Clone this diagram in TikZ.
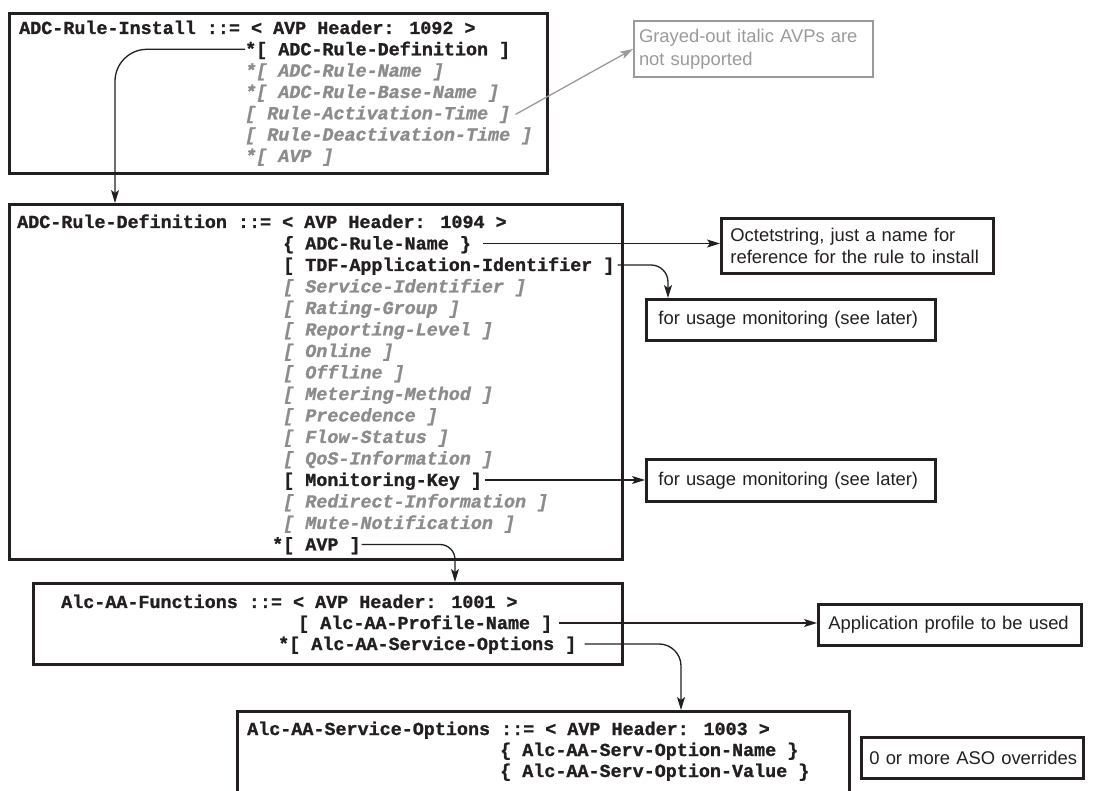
\documentclass[tikz,border=0pt]{standalone}
\usepackage{fontspec}
\setmainfont{Liberation Sans}
\newfontfamily\monof{Liberation Mono}[BoldFeatures={FakeBold=1.2},BoldItalicFeatures={FakeBold=1.2}]
\usetikzlibrary{arrows.meta}
\definecolor{ink}{HTML}{231F20}
\definecolor{avpgray}{HTML}{8C8C8C}
\definecolor{notegray}{HTML}{9A9A9A}
\tikzset{
  frame/.style={draw=ink, line width=3pt, anchor=north west, inner sep=0pt},
  mtxt/.style={inner sep=0pt, anchor=west, text height=14pt, text depth=2pt, text=ink,
    font=\monof\bfseries\fontsize{18.4pt}{21pt}\selectfont},
  gtxt/.style={mtxt, text=avpgray, font=\monof\bfseries\itshape\fontsize{18.4pt}{21pt}\selectfont},
  note/.style={draw=ink, line width=2.8pt, anchor=north west, align=left, text=ink,
    font=\fontsize{18.4pt}{22.5pt}\selectfont, inner ysep=0pt},
  conn/.style={draw=ink, line width=1.3pt, -{Stealth[length=13pt,width=8pt,inset=3pt]}},
  gconn/.style={draw=notegray, line width=1.3pt, -{Stealth[length=13pt,width=8pt,inset=3pt]}}
}
\begin{document}
\begin{tikzpicture}[x=1pt,y=-1pt]
\useasboundingbox (0,0) rectangle (1096,791);

% ---------- box 1 ----------
\node[frame, minimum width=538pt, minimum height=160pt] (b1) at (8,12) {};
\node[mtxt] (h1) at (19,28) {ADC-Rule-Install ::= < AVP Header: 1092 >};
\node[mtxt] (r1a) at (245,49.3) {*[ ADC-Rule-Definition ]};
\node[gtxt] (r1b) at (245,70.6) {*[ ADC-Rule-Name ]};
\node[gtxt] (r1c) at (245,92) {*[ ADC-Rule-Base-Name ]};
\node[gtxt] (r1d) at (245,113.3) {[ Rule-Activation-Time ]};
\node[gtxt] (r1e) at (245,134.6) {[ Rule-Deactivation-Time ]};
\node[gtxt] (r1f) at (245,156) {*[ AVP ]};

% gray note
\node[note, draw=notegray, line width=2pt, text=notegray, minimum width=239pt, minimum height=56pt,
      text width=229pt, inner xsep=5pt] (gnote) at (633,20) {Grayed-out italic AVPs are\\not supported};

% ---------- box 2 ----------
\node[frame, minimum width=613pt, minimum height=355pt] (b2) at (8,203) {};
\node[mtxt] (h2) at (17,222) {ADC-Rule-Definition ::= < AVP Header: 1094 >};
\node[mtxt] (r2a) at (283,243.5) {\{ ADC-Rule-Name \}};
\node[mtxt] (r2b) at (283,265) {[ TDF-Application-Identifier ]};
\node[gtxt] (r2c) at (283,286.5) {[ Service-Identifier ]};
\node[gtxt] (r2d) at (283,308) {[ Rating-Group ]};
\node[gtxt] (r2e) at (283,329.5) {[ Reporting-Level ]};
\node[gtxt] (r2f) at (283,351) {[ Online ]};
\node[gtxt] (r2g) at (283,372.5) {[ Offline ]};
\node[gtxt] (r2h) at (283,394) {[ Metering-Method ]};
\node[gtxt] (r2i) at (283,415.5) {[ Precedence ]};
\node[gtxt] (r2j) at (283,437) {[ Flow-Status ]};
\node[gtxt] (r2k) at (283,458.5) {[ QoS-Information ]};
\node[mtxt] (r2l) at (283,480) {[ Monitoring-Key ]};
\node[gtxt] (r2m) at (283,501.5) {[ Redirect-Information ]};
\node[gtxt] (r2n) at (283,523) {[ Mute-Notification ]};
\node[mtxt] (r2o) at (272,544.5) {*[ AVP ]};

% notes right of box 2
\node[note, minimum width=272pt, minimum height=55pt, text width=254pt, inner xsep=9pt] (oct) at (720,217)
  {Octetstring, just a name for\\reference for the rule to install};
\node[note, minimum width=289pt, minimum height=41pt, text width=265pt, inner xsep=12pt] (use1) at (645,298)
  {for usage monitoring (see later)};
\node[note, minimum width=289pt, minimum height=42pt, text width=265pt, inner xsep=12pt] (use2) at (645,458)
  {for usage monitoring (see later)};

% ---------- box 3 ----------
\node[frame, minimum width=589pt, minimum height=81pt] (b3) at (32,582) {};
\node[mtxt] (h3) at (61,602) {Alc-AA-Functions ::= < AVP Header: 1001 >};
\node[mtxt] (r3a) at (298,623) {[ Alc-AA-Profile-Name ]};
\node[mtxt] (r3b) at (278,644) {*[ Alc-AA-Service-Options ]};

\node[note, minimum width=263pt, minimum height=41pt, text width=243pt, inner xsep=10pt] (app) at (817,603)
  {Application profile to be used};

% ---------- box 4 ----------
\node[frame, minimum width=612pt, minimum height=120pt] (b4) at (236,710) {};
\node[mtxt] (h4) at (247,729) {Alc-AA-Service-Options ::= < AVP Header: 1003 >};
\node[mtxt] (r4a) at (500,750) {\{ Alc-AA-Serv-Option-Name \}};
\node[mtxt] (r4b) at (500,771) {\{ Alc-AA-Serv-Option-Value \}};

\node[note, minimum width=222pt, minimum height=41pt, text width=214pt, inner xsep=4pt] (aso) at (860,736)
  {\hspace*{4pt}0 or more ASO overrides};

% ---------- connectors ----------
\coordinate (k1) at (115,0);
\coordinate (k2) at (668,0);
\coordinate (k3) at (455,0);
\coordinate (k4) at (681,0);

\draw[conn, rounded corners=32pt] (r1a.west) -| (k1 |- b2.north);
\draw[gconn, shorten <=6pt] ([yshift=-4pt]r1d.east) -- (gnote.west);
\draw[conn, shorten <=12pt] (r2a.east) -- (r2a.east -| oct.west);
\draw[conn, shorten <=3pt, rounded corners=17pt] (r2b.east) -| (k2 |- use1.north);
\draw[conn, shorten <=3pt] (r2l.east) -- (r2l.east -| use2.west);
\draw[conn, shorten <=1pt, rounded corners=15pt] (r2o.east) -| (k3 |- b3.north);
\draw[conn, shorten <=7pt] (r3a.east) -- (r3a.east -| app.west);
\draw[conn, shorten <=8pt, rounded corners=22pt] (r3b.east) -| (k4 |- b4.north);
\end{tikzpicture}
\end{document}
